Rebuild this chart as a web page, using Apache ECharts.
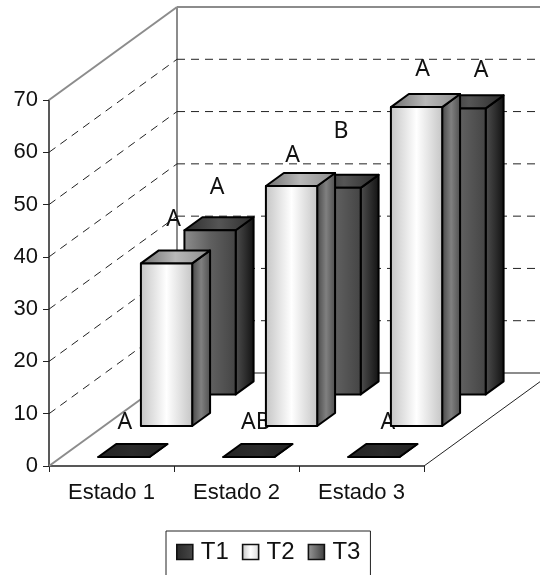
<!DOCTYPE html>
<html>
<head>
<meta charset="utf-8">
<style>html,body{margin:0;background:#fff}#main{width:540px;height:575px}</style>
<script src="https://cdn.jsdelivr.net/npm/echarts@6/dist/echarts.min.js"></script>
</head>
<body>
<div id="main"></div>
<script>
const categories = ['Estado 1', 'Estado 2', 'Estado 3'];
const t1Values = [0, 0, 0];
const t2Values = [31.1, 45.9, 61];
const t3Values = [31.4, 39.5, 54.7];
const t1Letters = ['A', 'AB', 'A'];
const t2Letters = ['A', 'A', 'A'];
const t3Letters = ['A', 'B', 'A'];
const wallTicks = [0, 10, 20, 30, 40, 50, 60, 70];

// depth of the fake 3d box, in pixels
const DX = 128, DY = 93;
const BAR_SCALE = 0.41;
const BAR_DEPTH = 0.14;

function grad(stops) {
    return {
        type: 'linear', x: 0, y: 0, x2: 1, y2: 0,
        colorStops: stops.map((c, i) => ({offset: i / (stops.length - 1), color: c}))
    };
}

const looks = {
    T1: {
        front: grad(['#262626', '#303030', '#262626']),
        top: grad(['#242424', '#2c2c2c', '#242424']),
        side: grad(['#333333', '#111111']),
        legend: grad(['#2a2a2a', '#484848'])
    },
    T2: {
        front: grad(['#c4c4c4', '#ffffff', '#c4c4c4']),
        top: grad(['#6e6e6e', '#b8b8b8', '#8c8c8c']),
        side: grad(['#444444', '#808080', '#4c4c4c']),
        legend: grad(['#c4c4c4', '#ffffff', '#d8d8d8'])
    },
    T3: {
        front: grad(['#8e8e8e', '#606060', '#444444']),
        top: grad(['#2c2c2c', '#555555', '#2c2c2c']),
        side: grad(['#505050', '#101010']),
        legend: grad(['#9a9a9a', '#3c3c3c'])
    }
};

// a bar at a given fraction of the box depth
function barRenderer(name, depthCenter) {
    return function (params, api) {
        const look = looks[name];
        const bw = api.size([1, 0])[0] * BAR_SCALE;
        const base = api.coord([api.value(0), 0]);
        const head = api.coord([api.value(0), api.value(1)]);
        const fx = DX * (depthCenter - BAR_DEPTH / 2), fy = DY * (depthCenter - BAR_DEPTH / 2);
        const ox = DX * BAR_DEPTH, oy = DY * BAR_DEPTH;
        const l = base[0] - bw / 2 + fx, r = base[0] + bw / 2 + fx;
        const b = base[1] - fy, t = head[1] - fy;
        const edge = {stroke: '#000', lineWidth: 2, lineJoin: 'round'};
        const poly = (points, fill) => ({
            type: 'polygon', shape: {points}, style: Object.assign({fill}, edge)
        });
        return {
            type: 'group',
            children: [
                poly([[r, b], [r + ox, b - oy], [r + ox, t - oy], [r, t]], look.side),
                poly([[l, t], [r, t], [r + ox, t - oy], [l + ox, t - oy]], look.top),
                poly([[l, b], [r, b], [r, t], [l, t]], look.front)
            ]
        };
    };
}

function wallRenderer(params, api) {
    const v = api.value(1);
    const cs = params.coordSys;
    const y = api.coord([0, v])[1];
    const x0 = cs.x, x1 = cs.x + cs.width;
    const solid = {stroke: '#8c8c8c', lineWidth: 2, fill: null};
    const dash = {stroke: '#222', lineWidth: 1, lineDash: [8, 6], fill: null};
    const st = v === 0 || v === 70 ? solid : dash;
    const line = (a, b, c, d, style) => ({type: 'line', shape: {x1: a, y1: b, x2: c, y2: d}, style});
    const children = [
        line(x0, y, x0 + DX, y - DY, st),
        line(x0 + DX, y - DY, x1 + DX, y - DY, st)
    ];
    if (v === 0) {
        const topY = api.coord([0, 70])[1];
        children.push(line(x0 + DX, y - DY, x0 + DX, topY - DY, solid));
        children.push(line(x1, y, x1 + DX, y - DY, {stroke: '#222', lineWidth: 1}));
    }
    return {type: 'group', children};
}

// letters were placed by hand on the original, so each one has its own nudge from the bar
const letterNudge = {
    T1: [[1, -35], [7, -35], [14, -35]],
    T2: [[7, -44], [1, -31], [6, -38]],
    T3: [[7, -43], [6, -56], [21, -38]]
};

function letterRenderer(name, letters, values, depthCenter) {
    return function (params, api) {
        const i = params.dataIndex;
        const p = api.coord([i, values[i]]);
        const front = depthCenter - BAR_DEPTH / 2;
        return {
            type: 'text',
            style: {
                text: letters[i],
                x: p[0] + DX * front + letterNudge[name][i][0],
                y: p[1] - DY * front + letterNudge[name][i][1],
                align: 'center',
                verticalAlign: 'middle',
                fill: '#111',
                font: '23px "Noto Sans"'
            }
        };
    };
}

function points(values) {
    return values.map((v, i) => [i, v]);
}

function barSeries(name, values, depth, z) {
    return {
        name,
        type: 'custom',
        clip: false,
        z,
        itemStyle: {color: looks[name].legend},
        renderItem: barRenderer(name, depth),
        data: points(values)
    };
}

function letterSeries(name, letters, values, depth) {
    return {
        name: name + ' letras',
        type: 'custom',
        clip: false,
        z: 3,
        silent: true,
        renderItem: letterRenderer(name, letters, values, depth),
        data: points(values)
    };
}

const option = {
    backgroundColor: '#fff',
    animation: false,
    textStyle: {fontFamily: '"Liberation Sans"'},
    grid: {left: 49, top: 100, width: 375, height: 366},
    legend: {
        data: ['T1', 'T2', 'T3'],
        left: 166,
        top: 531,
        orient: 'horizontal',
        icon: 'rect',
        itemWidth: 16,
        itemHeight: 15,
        itemGap: 13,
        padding: [9, 10, 12, 10],
        borderColor: '#222',
        borderWidth: 1,
        backgroundColor: '#fff',
        selectedMode: false,
        itemStyle: {borderColor: '#111', borderWidth: 1.6},
        textStyle: {fontSize: 24, color: '#111', fontFamily: '"Liberation Sans"', padding: [0, 0, 5, 3]}
    },
    xAxis: {
        type: 'category',
        data: categories,
        axisLine: {lineStyle: {color: '#222', width: 1.5}},
        axisTick: {show: true, alignWithLabel: false, length: 6, lineStyle: {color: '#222', width: 1}},
        axisLabel: {fontSize: 22, color: '#111', margin: 16}
    },
    yAxis: {
        type: 'value',
        min: 0,
        max: 70,
        interval: 10,
        splitLine: {show: false},
        axisLine: {show: true, lineStyle: {color: '#222', width: 1.5}},
        axisTick: {show: true, length: 6, lineStyle: {color: '#222', width: 1}},
        axisLabel: {fontSize: 22, color: '#111', margin: 11, padding: [3, 0, 0, 0]}
    },
    series: [
        {
            name: 'paredes',
            type: 'custom',
            clip: false,
            z: 1,
            silent: true,
            renderItem: wallRenderer,
            data: wallTicks.map(v => [0, v])
        },
        letterSeries('T1', t1Letters, t1Values, 1 / 6),
        letterSeries('T2', t2Letters, t2Values, 1 / 2),
        letterSeries('T3', t3Letters, t3Values, 0.84),
        barSeries('T3', t3Values, 0.84, 4),
        barSeries('T2', t2Values, 1 / 2, 5),
        barSeries('T1', t1Values, 1 / 6, 6)
    ]
};

const chart = echarts.init(document.getElementById('main'));
chart.setOption(option);
</script>
</body>
</html>
